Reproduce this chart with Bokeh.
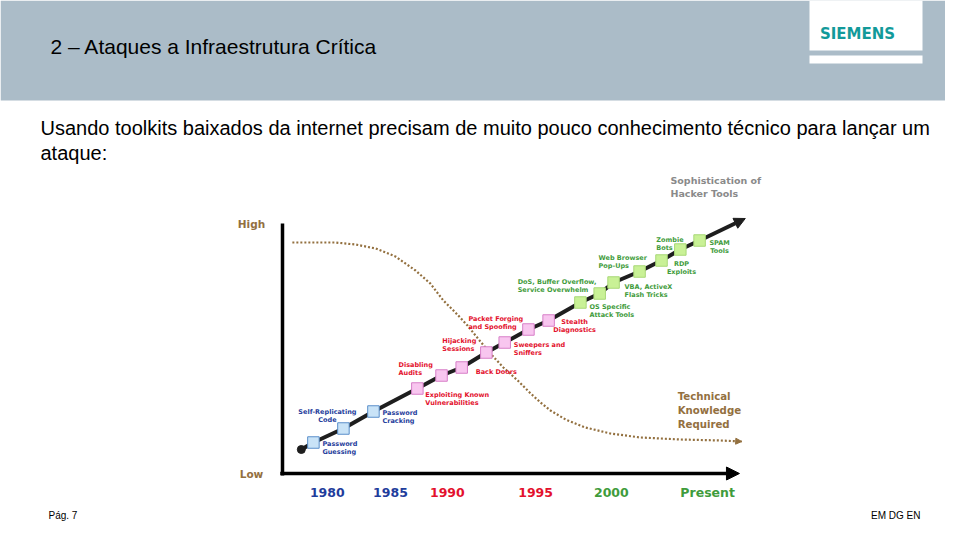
from bokeh.plotting import figure
from bokeh.models import Range1d, ColumnDataSource, Arrow, NormalHead
from bokeh.core.properties import value
from bokeh.embed import file_html
from bokeh.resources import INLINE

# ---------------- data ----------------
tool_names = [
    "Password\nGuessing", "Self-Replicating\nCode", "Password\nCracking",
    "Exploiting Known\nVulnerabilities", "Disabling\nAudits", "Back Doors",
    "Hijacking\nSessions", "Sweepers and\nSniffers", "Packet Forging\nand Spoofing",
    "Stealth\nDiagnostics", "OS Specific\nAttack Tools",
    "DoS, Buffer Overflow,\nService Overwhelm", "VBA, ActiveX\nFlash Tricks",
    "Web Browser\nPop-Ups", "RDP\nExploits", "Zombie\nBots", "SPAM\nTools",
]
tool_era = ["1980s"] * 3 + ["1990s"] * 7 + ["2000s"] * 7
# position along the time axis (0 = origin, 100 = end of axis)
tool_time = [6.9, 13.6, 20.3, 30.1, 35.5, 40.0, 45.5, 49.6, 54.9, 59.4,
             66.5, 70.8, 73.9, 79.7, 84.6, 88.8, 93.1]
# sophistication of hacker tools (0 = low, 100 = high)
tool_sophistication = [12.4, 18.0, 24.8, 34.0, 39.2, 42.4, 48.4, 52.4, 57.6, 61.2,
                       68.4, 72.0, 76.4, 80.8, 85.2, 89.6, 93.2]
trend_start = [4.2, 9.6]
trend_end = [103.3, 102.0]

# technical knowledge required (dotted curve)
knowledge_time = [2.2, 7.4, 11.8, 16.3, 20.8, 25.2, 29.7, 33.0, 35.9, 38.6, 41.3,
                  43.8, 46.4, 49.3, 52.5, 55.4, 57.6, 59.8, 63.2, 67.6, 73.2,
                  79.9, 88.8, 97.8, 102.5]
knowledge_level = [92.4, 92.4, 92.4, 91.6, 90.0, 86.8, 81.2, 76.0, 69.2, 64.4, 59.2,
                   53.6, 48.0, 42.4, 37.2, 32.0, 28.4, 25.2, 21.6, 18.4, 16.0,
                   14.4, 13.6, 13.2, 12.8]

year_labels = ["1980", "1985", "1990", "1995", "2000", "Present"]
year_era = ["1980s", "1980s", "1990s", "1990s", "2000s", "2000s"]
year_time = [10.0, 24.1, 36.8, 56.5, 73.4, 94.9]

TITLE = "2 \u2013 Ataques a Infraestrutura Cr\u00edtica"
INTRO = ["Usando toolkits baixados da internet precisam de muito pouco conhecimento t\u00e9cnico para lan\u00e7ar um",
         "ataque:"]
FOOT_LEFT = "P\u00e1g. 7"
FOOT_RIGHT = "EM DG EN"
LOGO = "SIEMENS"

# ---------------- styles / layout ----------------
ERA_TEXT = {"1980s": "#1f3d9c", "1990s": "#e3112d", "2000s": "#3f9c3c"}
ERA_FILL = {"1980s": "#c9e3f7", "1990s": "#f8c6ef", "2000s": "#c9f196"}
ERA_LINE = {"1980s": "#5b8fca", "1990s": "#d77fc8", "2000s": "#a9d877"}
BROWN = "#93703f"

# label placement relative to each square (px) : dx, dy (block centre), align
label_dx = [9, -16, 9, 8, -43, 14, -44, 9, -60, 26, 9, -82, 11, -41, 20, -24, 20]
label_dy = [5.5, -12.5, 5.5, 10.5, -6.5, 4, -7.5, 6.5, -6.5, 5.5, 8.5, -7.5, 8.5, -9.5, 7.5, -5.5, 6.5]
label_align = ["left", "center", "left", "left", "left", "left", "left", "left", "left",
               "center", "left", "left", "left", "left", "center", "left", "center"]

W, H = 945, 524
PAGE_X0, PAGE_Y0 = 0, 0                 # page pixel coordinates of the canvas corner
AX_X0, AX_X1 = 282, 730                 # page px of time 0 and time 100
AX_Y0, AX_Y1 = 473, 223                 # page px of level 0 and level 100
ppt = (AX_X1 - AX_X0) / 100.0
ppl = (AX_Y0 - AX_Y1) / 100.0

p = figure(width=W, height=H, output_backend="svg", toolbar_location=None,
           x_range=Range1d(PAGE_X0, PAGE_X0 + W), y_range=Range1d(PAGE_Y0 + H, PAGE_Y0),
           x_axis_location=None, y_axis_location=None, min_border=0,
           outline_line_color=None, background_fill_color="white",
           border_fill_color="white")
p.grid.visible = False
p.extra_x_ranges = {"t": Range1d((PAGE_X0 - AX_X0) / ppt, (PAGE_X0 + W - AX_X0) / ppt)}
p.extra_y_ranges = {"lvl": Range1d((AX_Y0 - (PAGE_Y0 + H)) / ppl, (AX_Y0 - PAGE_Y0) / ppl)}

# ---------------- page decoration ----------------
p.quad(left=[0], right=[961], top=[0], bottom=[100], fill_color="#abbcc8", line_color=None)
p.quad(left=[809, 809], right=[922, 922], top=[0, 55], bottom=[50, 63],
       fill_color="white", line_color=None)
p.text(x=[857], y=[33], text=[LOGO], text_font=value("DejaVu Sans"), text_font_style="bold",
       text_font_size="15px", text_color="#129a9a", text_align="center", text_baseline="middle")
p.text(x=[50], y=[46], text=[TITLE], text_font=value("Liberation Sans"),
       text_font_size="21px", text_color="black", text_baseline="middle")
p.text(x=[40, 40], y=[127, 152], text=INTRO, text_font=value("Liberation Sans"),
       text_font_size="20px", text_color="black", text_baseline="middle")
p.text(x=[48], y=[515], text=[FOOT_LEFT], text_font=value("Liberation Sans"),
       text_font_size="10px", text_color="black", text_baseline="middle")
p.text(x=[920], y=[515], text=[FOOT_RIGHT], text_font=value("Liberation Sans"),
       text_font_size="10px", text_color="black", text_baseline="middle", text_align="right")

# ---------------- chart ----------------
R = dict(x_range_name="t", y_range_name="lvl")

# axes
p.segment(x0=[0], y0=[100], x1=[0], y1=[-0.8], line_color="black", line_width=3.5, **R)
x_axis = Arrow(x_start=-0.5, y_start=0, x_end=102, y_end=0, line_color="black", line_width=3.5,
               end=NormalHead(size=13, fill_color="black", line_color="black"), **R)
p.add_layout(x_axis)
p.text(x=[0, 0], y=[100, 0], text=["High", "Low"], x_offset=-31, text_font=value("DejaVu Sans"),
       text_font_style="bold", text_font_size="10.5px", text_color=BROWN,
       text_align="center", text_baseline="middle", **R)

# knowledge curve
p.line(knowledge_time, knowledge_level, line_color=BROWN, line_width=2.2,
       line_dash="2 2", **R)
k_head = Arrow(x_start=knowledge_time[-2], y_start=knowledge_level[-2],
               x_end=knowledge_time[-1], y_end=knowledge_level[-1], line_alpha=0,
               end=NormalHead(size=6, fill_color=BROWN, line_color=BROWN), **R)
p.add_layout(k_head)

# sophistication trend
trend_x = [trend_start[0]] + tool_time
trend_y = [trend_start[1]] + tool_sophistication
p.line(trend_x, trend_y, line_color="#1e1e1e", line_width=4, **R)
t_arrow = Arrow(x_start=tool_time[-1], y_start=tool_sophistication[-1],
                x_end=trend_end[0], y_end=trend_end[1], line_color="#1e1e1e", line_width=4,
                end=NormalHead(size=11, fill_color="#1e1e1e", line_color="#1e1e1e"),
                level="underlay", **R)
p.add_layout(t_arrow)
p.scatter([trend_start[0]], [trend_start[1]], size=8, color="#1e1e1e", **R)

src = ColumnDataSource(dict(
    x=tool_time, y=tool_sophistication, name=tool_names,
    fill=[ERA_FILL[e] for e in tool_era], line=[ERA_LINE[e] for e in tool_era],
    tc=[ERA_TEXT[e] for e in tool_era], dx=label_dx, dy=label_dy, align=label_align))
p.scatter("x", "y", marker="square", size=11.5, fill_color="fill", line_color="line",
          line_width=1, source=src, **R)
p.text("x", "y", text="name", x_offset="dx", y_offset="dy", text_align="align",
       text_color="tc", text_font=value("DejaVu Sans"), text_font_style="bold",
       text_font_size="6.5px", text_line_height=0.95, text_baseline="middle", source=src, **R)

# year tick labels
ysrc = ColumnDataSource(dict(x=year_time, y=[0] * len(year_time), lab=year_labels,
                             c=[ERA_TEXT[e] for e in year_era]))
p.text("x", "y", text="lab", y_offset=19, text_color="c", text_font=value("DejaVu Sans"),
       text_font_style="bold", text_font_size="12.5px", text_align="center",
       text_baseline="middle", source=ysrc, **R)

# series titles
p.text(x=[86.6], y=[114.6], text=["Sophistication of\nHacker Tools"],
       text_font=value("DejaVu Sans"), text_font_style="bold", text_font_size="9.5px",
       text_line_height=1.26, text_color="#8a8a8a", text_baseline="middle", **R)
p.text(x=[88.2], y=[25.2], text=["Technical\nKnowledge\nRequired"],
       text_font=value("DejaVu Sans"), text_font_style="bold", text_font_size="10.2px",
       text_line_height=1.26, text_color=BROWN, text_baseline="middle", **R)

open("out.html", "w").write(file_html(p, INLINE))
